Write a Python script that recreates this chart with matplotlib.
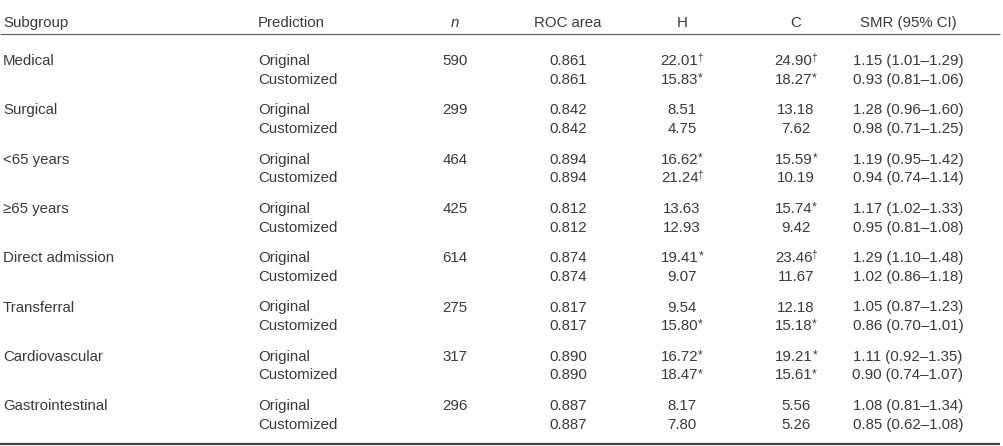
import matplotlib
matplotlib.use("Agg")
import matplotlib.pyplot as plt

# ---- data ----
subgroups = ["Medical", "Surgical", "<65 years", "\u226565 years",
             "Direct admission", "Transferral", "Cardiovascular", "Gastrointestinal"]
predictions = ["Original", "Customized"]
n_values = [590, 299, 464, 425, 614, 275, 317, 296]
roc_area = [0.861, 0.842, 0.894, 0.812, 0.874, 0.817, 0.890, 0.887]

h_original = ["22.01", "8.51", "16.62", "13.63", "19.41", "9.54", "16.72", "8.17"]
h_original_mark = ["\u2020", "", "*", "", "*", "", "*", ""]
h_customized = ["15.83", "4.75", "21.24", "12.93", "9.07", "15.80", "18.47", "7.80"]
h_customized_mark = ["*", "", "\u2020", "", "", "*", "*", ""]

c_original = ["24.90", "13.18", "15.59", "15.74", "23.46", "12.18", "19.21", "5.56"]
c_original_mark = ["\u2020", "", "*", "*", "\u2020", "", "*", ""]
c_customized = ["18.27", "7.62", "10.19", "9.42", "11.67", "15.18", "15.61", "5.26"]
c_customized_mark = ["*", "", "", "", "", "*", "*", ""]

smr_original = ["1.15 (1.01\u20131.29)", "1.28 (0.96\u20131.60)", "1.19 (0.95\u20131.42)",
                "1.17 (1.02\u20131.33)", "1.29 (1.10\u20131.48)", "1.05 (0.87\u20131.23)",
                "1.11 (0.92\u20131.35)", "1.08 (0.81\u20131.34)"]
smr_customized = ["0.93 (0.81\u20131.06)", "0.98 (0.71\u20131.25)", "0.94 (0.74\u20131.14)",
                  "0.95 (0.81\u20131.08)", "1.02 (0.86\u20131.18)", "0.86 (0.70\u20131.01)",
                  "0.90 (0.74\u20131.07)", "0.85 (0.62\u20131.08)"]

headers = ["Subgroup", "Prediction", "n", "ROC area", "H", "C", "SMR (95% CI)"]

# ---- layout ----
W, H = 1004, 446
FONT = "Liberation Sans"
FS = 10.8
COLOR = "#3a3a3a"
col_x = [3, 258, 455, 568, 682, 796, 908]
col_ha = ["left", "left", "center", "center", "center", "center", "center"]
header_base = 27
first_base = 65
group_pitch = 49.3
line_pitch = 18.7

fig = plt.figure(figsize=(W / 100, H / 100), dpi=100)
ax = fig.add_axes([0, 0, 1, 1])
ax.set_xlim(0, W)
ax.set_ylim(H, 0)
ax.axis("off")
renderer = fig.canvas.get_renderer()


def txt(x, y, s, ha="left", size=FS, style="normal"):
    return ax.text(x, y, s, ha=ha, va="baseline", fontsize=size, family=FONT,
                   color=COLOR, fontstyle=style)


def width_px(s, size):
    t = ax.text(0, 0, s, fontsize=size, family=FONT)
    w = t.get_window_extent(renderer).width
    t.remove()
    return w


def marked(xc, y, num, mark):
    if not mark:
        txt(xc, y, num, ha="center")
        return
    if mark == "*":
        msize, dy, gap = 8.8, -2.5, -0.3
    else:
        msize, dy, gap = 7.2, -4.0, -0.8
    wn = width_px(num, FS)
    wm = width_px(mark, msize)
    left = xc - (wn + wm + gap) / 2
    txt(left, y, num, ha="left")
    txt(left + wn + gap, y + dy, mark, ha="left", size=msize)


# header
for i, h in enumerate(headers):
    txt(col_x[i], header_base, h, ha=col_ha[i], style="italic" if h == "n" else "normal")

ax.plot([0, 1000], [33.5, 33.5], color="#666666", lw=0.9, solid_capstyle="butt")
ax.plot([0, 1000], [444, 444], color="#444444", lw=1.6, solid_capstyle="butt")

rows = zip(subgroups, n_values, roc_area, h_original, h_original_mark, h_customized,
           h_customized_mark, c_original, c_original_mark, c_customized,
           c_customized_mark, smr_original, smr_customized)
for g, (sg, n, roc, ho, hom, hc, hcm, co, com, cc, ccm, so, sc) in enumerate(rows):
    y0 = first_base + g * group_pitch
    y1 = y0 + line_pitch
    txt(col_x[0], y0, sg)
    txt(col_x[1], y0, predictions[0])
    txt(col_x[1], y1, predictions[1])
    txt(col_x[2], y0, f"{n}", ha="center")
    txt(col_x[3], y0, f"{roc:.3f}", ha="center")
    txt(col_x[3], y1, f"{roc:.3f}", ha="center")
    marked(col_x[4], y0, ho, hom)
    marked(col_x[4], y1, hc, hcm)
    marked(col_x[5], y0, co, com)
    marked(col_x[5], y1, cc, ccm)
    txt(col_x[6], y0, so, ha="center")
    txt(col_x[6], y1, sc, ha="center")

fig.savefig("out.png", dpi=100, facecolor="white")
